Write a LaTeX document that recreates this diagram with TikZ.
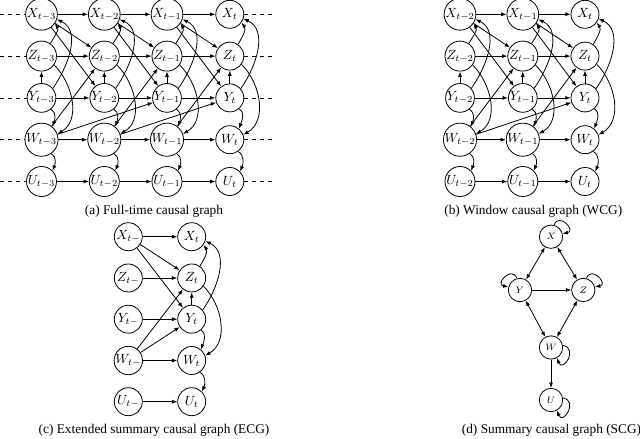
\documentclass[tikz,border=0pt]{standalone}
\usepackage{fontspec}
\setmainfont{Liberation Serif}
\usetikzlibrary{arrows.meta}
\begin{document}
\begin{tikzpicture}[x=0.75pt,y=-0.75pt,>={Latex[length=4pt,width=3pt]},
  vnode/.style={circle,draw,fill=white,minimum size=21pt,inner sep=0pt,line width=0.6pt,font=\normalsize},
  snode/.style={circle,draw,fill=white,minimum size=17.5pt,inner sep=0pt,line width=0.6pt,font=\fontsize{7.5}{9}\selectfont},
  arr/.style={->,line width=0.6pt},
  barr/.style={<->,line width=0.6pt},
  dline/.style={dashed,line width=0.6pt},
  captxt/.style={font=\fontsize{10}{12}\selectfont,inner sep=0pt}
]
\useasboundingbox (0,0) rectangle (640,439);

% ---------------- (a) Full-time causal graph ----------------
\foreach \c/\x/\l in {0/41.5/t-3,1/104.3/t-2,2/167/t-1,3/229.8/t} {
  \node[vnode] (aX\c) at (\x,14.3) {$X_{\l}$};
  \node[vnode] (aZ\c) at (\x,56.1) {$Z_{\l}$};
  \node[vnode] (aY\c) at (\x,97.9) {$Y_{\l}$};
  \node[vnode] (aW\c) at (\x,139.7) {$W_{\l}$};
  \node[vnode] (aU\c) at (\x,181.5) {$U_{\l}$};
}
\foreach \r/\y in {X/14.3,Z/56.1,Y/97.9,W/139.7,U/181.5} {
  \coordinate (aL\r) at (0,\y);
  \coordinate (aR\r) at (272,\y);
  \draw[dline] (aL\r) -- (a\r0);
  \draw[dline] (a\r3) -- (aR\r);
}
\foreach \c in {0,1,2,3} {
  \draw[arr] (aY\c) -- (aZ\c);
  \draw[arr] (aZ\c.55) to[out=60,in=-55] (aX\c.-35);
  \draw[arr] (aY\c.40) to[out=55,in=-25] (aX\c.-18);
  \draw[arr] (aZ\c.-35) to[out=-45,in=30] (aW\c.20);
  \draw[arr] (aY\c.-50) to[out=-30,in=70] (aW\c.50);
  \draw[arr] (aW\c.-55) to[out=-30,in=65] (aU\c.45);
}
\foreach \c/\n in {0/1,1/2,2/3} {
  \foreach \r in {X,Z,Y,W,U} { \draw[arr] (a\r\c) -- (a\r\n); }
  \draw[arr] (aX\c) -- (aZ\n);
  \draw[arr] (aX\c) -- (aY\n);
  \draw[arr] (aW\c) -- (aZ\n);
}
\foreach \c/\n in {0/2,1/3} { \draw[arr] (aW\c) -- (aY\n); }
\node[captxt] (capA) at (154,211) {(a) Full-time causal graph};

% ---------------- (b) Window causal graph ----------------
\foreach \c/\x/\l in {0/460/t-2,1/522.8/t-1,2/585/t} {
  \node[vnode] (bX\c) at (\x,14.3) {$X_{\l}$};
  \node[vnode] (bZ\c) at (\x,56.1) {$Z_{\l}$};
  \node[vnode] (bY\c) at (\x,97.9) {$Y_{\l}$};
  \node[vnode] (bW\c) at (\x,139.7) {$W_{\l}$};
  \node[vnode] (bU\c) at (\x,181.5) {$U_{\l}$};
}
\foreach \c in {0,1,2} {
  \draw[arr] (bY\c) -- (bZ\c);
  \draw[arr] (bZ\c.55) to[out=60,in=-55] (bX\c.-35);
  \draw[arr] (bY\c.40) to[out=55,in=-25] (bX\c.-18);
  \draw[arr] (bZ\c.-35) to[out=-45,in=30] (bW\c.20);
  \draw[arr] (bY\c.-50) to[out=-30,in=70] (bW\c.50);
  \draw[arr] (bW\c.-55) to[out=-30,in=65] (bU\c.45);
}
\foreach \c/\n in {0/1,1/2} {
  \foreach \r in {X,Z,Y,W,U} { \draw[arr] (b\r\c) -- (b\r\n); }
  \draw[arr] (bX\c) -- (bZ\n);
  \draw[arr] (bX\c) -- (bY\n);
  \draw[arr] (bW\c) -- (bZ\n);
}
\draw[arr] (bW0) -- (bY2);
\node[captxt] (capB) at (533.3,211) {(b) Window causal graph (WCG)};

% ---------------- (c) Extended summary causal graph ----------------
\foreach \c/\x/\l in {0/128.3/t-,1/191.7/t} {
  \node[vnode] (cX\c) at (\x,236.7) {$X_{\l}$};
  \node[vnode] (cZ\c) at (\x,278) {$Z_{\l}$};
  \node[vnode] (cY\c) at (\x,319.2) {$Y_{\l}$};
  \node[vnode] (cW\c) at (\x,360.5) {$W_{\l}$};
  \node[vnode] (cU\c) at (\x,401.7) {$U_{\l}$};
}
\foreach \r in {X,Z,Y,W,U} { \draw[arr] (c\r0) -- (c\r1); }
\draw[arr] (cX0) -- (cZ1);
\draw[arr] (cX0) -- (cY1);
\draw[arr] (cW0) -- (cZ1);
\draw[arr] (cW0) -- (cY1);
\draw[arr] (cY1) -- (cZ1);
\draw[arr] (cZ1.55) to[out=60,in=-55] (cX1.-35);
\draw[arr] (cY1.40) to[out=55,in=-25] (cX1.-18);
\draw[arr] (cZ1.-35) to[out=-45,in=30] (cW1.20);
\draw[arr] (cY1.-50) to[out=-30,in=70] (cW1.50);
\draw[arr] (cW1.-55) to[out=-30,in=65] (cU1.45);
\node[captxt] (capC) at (154,430) {(c) Extended summary causal graph (ECG)};

% ---------------- (d) Summary causal graph ----------------
\node[snode] (sX) at (551,236.7) {$X$};
\node[snode] (sY) at (520,290) {$Y$};
\node[snode] (sZ) at (583.3,290) {$Z$};
\node[snode] (sW) at (551,347.5) {$W$};
\node[snode] (sU) at (551,400) {$U$};
\draw[barr] (sX) -- (sY);
\draw[barr] (sX) -- (sZ);
\draw[arr] (sY) -- (sZ);
\draw[barr] (sY) -- (sW);
\draw[barr] (sZ) -- (sW);
\draw[arr] (sW) -- (sU);
\draw[arr] (sX.75) to[out=70,in=10,looseness=3] (sX.15);
\draw[arr] (sY.105) to[out=110,in=170,looseness=3] (sY.165);
\draw[arr] (sZ.75) to[out=70,in=10,looseness=3] (sZ.15);
\draw[arr] (sW.10) to[out=-10,in=-70,looseness=3] (sW.-60);
\draw[arr] (sU.10) to[out=-10,in=-70,looseness=3] (sU.-60);
\node[captxt] (capD) at (551.5,430) {(d) Summary causal graph (SCG)};
\end{tikzpicture}
\end{document}
